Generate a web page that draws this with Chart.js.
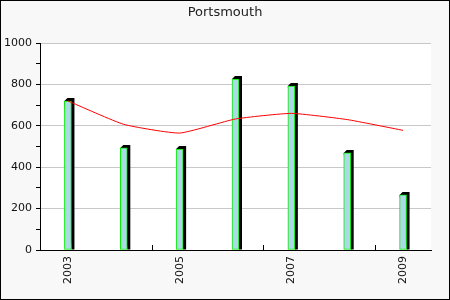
<!DOCTYPE html>
<html>
<head>
<meta charset="utf-8">
<script src="https://cdn.jsdelivr.net/npm/chart.js@4/dist/chart.umd.min.js"></script>
<style>
  html, body { margin: 0; padding: 0; }
  #wrap { width: 450px; height: 300px; }
</style>
</head>
<body>
<div id="wrap"><canvas id="chart"></canvas></div>
<script>
const years = ['2003', '2004', '2005', '2006', '2007', '2008', '2009'];
const attendance = [720, 493, 488, 826, 792, 469, 266];
const trend = [720, 607, 565, 633, 660, 630, 578];
const yTicks = [0, 200, 400, 600, 800, 1000];
const chartTitle = 'Portsmouth';

// background, white plot area, frame, title
const frame = {
    id: 'frame',
    beforeDraw(chart) {
        const { ctx, chartArea: a, width, height } = chart;
        ctx.save();
        ctx.fillStyle = '#f8f8f8';
        ctx.fillRect(0, 0, width, height);
        ctx.fillStyle = '#ffffff';
        ctx.fillRect(a.left, a.top, a.right - a.left, a.bottom - a.top);
        ctx.strokeStyle = '#000';
        ctx.lineWidth = 1;
        ctx.strokeRect(0.5, 0.5, width - 1, height - 1);
        ctx.fillStyle = '#222';
        ctx.font = '13px "DejaVu Sans"';
        ctx.textAlign = 'center';
        ctx.textBaseline = 'middle';
        ctx.fillText(chartTitle, width / 2, 12.5);
        ctx.restore();
    },
    afterDraw(chart) {
        // small upward ticks every two categories
        const { ctx } = chart;
        const x = chart.scales.x;
        ctx.save();
        ctx.strokeStyle = '#000';
        ctx.lineWidth = 1;
        for (let i = 2; i < years.length; i += 2) {
            const px = Math.round((x.getPixelForValue(i - 1) + x.getPixelForValue(i)) / 2) + 0.5;
            ctx.beginPath();
            ctx.moveTo(px, x.top);
            ctx.lineTo(px, x.top - 5);
            ctx.stroke();
        }
        ctx.restore();
    }
};

// 3d look: black side + top behind every bar
const barShadow = {
    id: 'barShadow',
    beforeDatasetDraw(chart, args) {
        if (args.index !== 0) return;
        const { ctx } = chart;
        const d = 3;
        ctx.save();
        ctx.fillStyle = '#000';
        args.meta.data.forEach(bar => {
            const l = bar.x - bar.width / 2;
            const r = bar.x + bar.width / 2;
            ctx.beginPath();
            ctx.moveTo(l, bar.y);
            ctx.lineTo(l + d, bar.y - d);
            ctx.lineTo(r + d, bar.y - d);
            ctx.lineTo(r + d, bar.base);
            ctx.lineTo(r, bar.base);
            ctx.closePath();
            ctx.fill();
        });
        ctx.restore();
    }
};

const ctx = document.getElementById('chart').getContext('2d');
new Chart(ctx, {
    data: {
        labels: years,
        datasets: [{
            type: 'bar',
            data: attendance,
            backgroundColor: '#add8e6',
            borderColor: '#00ee00',
            borderWidth: 1,
            borderSkipped: false,
            barThickness: 7,
            order: 1
        }, {
            type: 'line',
            data: trend,
            borderColor: '#ff0000',
            borderWidth: 1,
            pointRadius: 0,
            tension: 0.15,
            fill: false,
            order: 0
        }]
    },
    options: {
        responsive: true,
        maintainAspectRatio: false,
        animation: false,
        layout: { padding: { left: 0, right: 19, top: 43, bottom: 0 } },
        plugins: {
            legend: { display: false },
            tooltip: { enabled: false },
            title: { display: false }
        },
        scales: {
            x: {
                offset: true,
                grid: { display: false, drawTicks: false },
                border: { color: '#000', width: 1 },
                afterFit: s => { s.height = 50; },
                ticks: {
                    autoSkip: false,
                    minRotation: 90,
                    maxRotation: 90,
                    padding: 6,
                    color: '#111',
                    font: { family: 'DejaVu Sans', size: 11 },
                    callback: (v, i) => i % 2 === 0 ? years[i] : ''
                }
            },
            y: {
                min: 0,
                max: 1000,
                afterFit: s => { s.width = 40; },
                border: { color: '#000', width: 1 },
                grid: {
                    color: c => yTicks.includes(c.tick.value) ? '#c8c8c8' : 'rgba(0,0,0,0)',
                    tickColor: '#000',
                    tickLength: 4
                },
                ticks: {
                    stepSize: 100,
                    padding: 4,
                    color: '#111',
                    font: { family: 'DejaVu Sans', size: 11 },
                    callback: v => yTicks.includes(v) ? v : ''
                }
            }
        }
    },
    plugins: [frame, barShadow]
});
</script>
</body>
</html>
